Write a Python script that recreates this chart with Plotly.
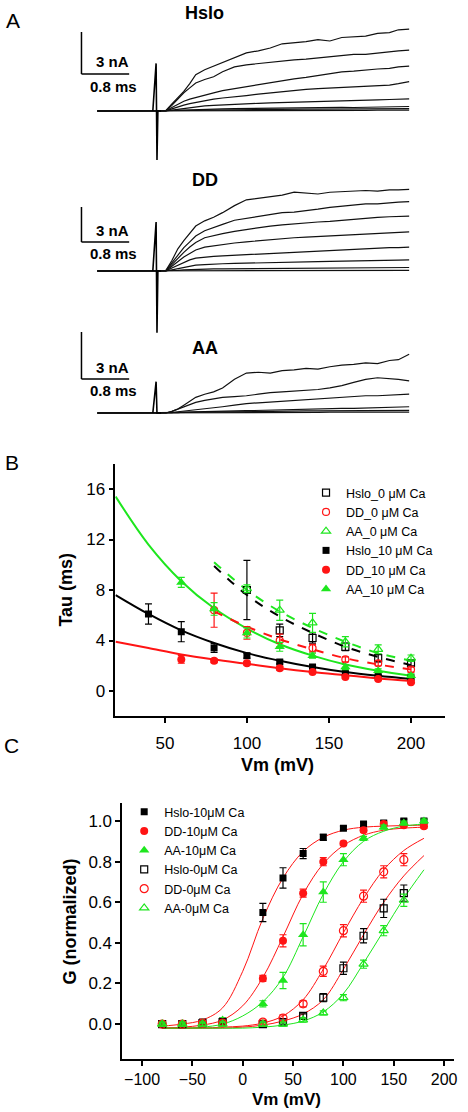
import plotly.graph_objects as go

FONT = "Liberation Sans, Arial, sans-serif"
BLACK = "#000000"
RED = "#ff1414"
GREEN = "#1ee61e"
W, H = 468, 1112


def px(x):
    return x / W


def py(y):
    return 1 - y / H


# ---------------- Panel A: current traces (time in ms, current in nA) ----------------
T_A = [0, 1.1, 1.15, 1.25, 1.35, 1.45, 1.55, 1.65, 1.8, 1.95, 2.1, 2.3, 2.5, 2.7, 2.9,
       3.1, 3.3, 3.5, 3.7, 3.9, 4.1, 4.3, 4.5, 4.7, 4.9, 5.05, 5.23]

HSLO_TRACES = [
    [0, 0, 0.05, 0.5, 0.95, 1.4, 1.95, 2.6, 2.95, 3.2, 3.5, 3.8, 4.15, 4.3, 4.5, 4.8, 4.85, 4.95, 5.1, 5.0, 5.25, 5.3, 5.35, 5.55, 5.6, 5.8, 5.85],
    [0, 0, 0.03, 0.4, 0.85, 1.3, 1.65, 2.0, 2.25, 2.45, 2.8, 3.15, 3.3, 3.4, 3.5, 3.6, 3.65, 3.7, 3.8, 3.85, 4.0, 4.05, 4.05, 4.15, 4.2, 4.3, 4.35],
    [0, 0, 0.02, 0.25, 0.5, 0.7, 0.85, 0.97, 1.15, 1.3, 1.45, 1.6, 1.75, 1.9, 2.0, 2.2, 2.3, 2.4, 2.55, 2.7, 2.8, 2.85, 2.95, 3.0, 3.05, 3.15, 3.2],
    [0, 0, 0.01, 0.15, 0.3, 0.42, 0.53, 0.62, 0.75, 0.85, 0.93, 1.0, 1.1, 1.2, 1.3, 1.4, 1.5, 1.55, 1.6, 1.65, 1.7, 1.72, 1.75, 1.8, 1.85, 1.95, 2.1],
    [0, 0, 0, 0.06, 0.12, 0.18, 0.24, 0.3, 0.36, 0.4, 0.44, 0.48, 0.52, 0.55, 0.58, 0.61, 0.64, 0.67, 0.7, 0.72, 0.74, 0.76, 0.78, 0.8, 0.82, 0.84, 0.86],
    [0, 0, 0, 0.02, 0.04, 0.06, 0.08, 0.1, 0.12, 0.14, 0.15, 0.17, 0.18, 0.19, 0.2, 0.21, 0.22, 0.24, 0.26, 0.3, 0.26, 0.25, 0.27, 0.28, 0.29, 0.3, 0.32],
    [0, 0, 0, 0.01, 0.02, 0.03, 0.04, 0.05, 0.06, 0.07, 0.08, 0.09, 0.1, 0.1, 0.11, 0.12, 0.12, 0.13, 0.13, 0.14, 0.14, 0.15, 0.15, 0.16, 0.15, 0.16, 0.17],
    [0, 0, 0, 0, 0, 0.01, 0.01, 0.01, 0.02, 0.02, 0.02, 0.03, 0.03, 0.03, 0.03, 0.04, 0.04, 0.04, 0.04, 0.05, 0.05, 0.05, 0.05, 0.06, 0.06, 0.06, 0.06],
]
DD_TRACES = [
    [0, 0, 0.05, 0.9, 1.9, 2.6, 3.2, 3.85, 4.3, 4.6, 5.0, 5.6, 6.1, 6.25, 6.35, 6.5, 6.75, 6.7, 6.6, 6.75, 6.8, 6.85, 6.9, 6.85, 6.95, 6.95, 7.0],
    [0, 0, 0.04, 0.7, 1.4, 2.0, 2.5, 3.0, 3.45, 3.75, 4.0, 4.35, 4.5, 4.65, 4.85, 5.0, 5.05, 5.15, 5.3, 5.45, 5.55, 5.6, 5.75, 5.75, 5.85, 5.9, 5.95],
    [0, 0, 0.03, 0.55, 1.1, 1.6, 2.05, 2.45, 2.85, 3.05, 3.2, 3.4, 3.55, 3.75, 3.85, 3.95, 4.05, 4.1, 4.2, 4.25, 4.35, 4.45, 4.5, 4.6, 4.65, 4.7, 4.7],
    [0, 0, 0.02, 0.4, 0.8, 1.2, 1.5, 1.8, 2.05, 2.15, 2.3, 2.4, 2.5, 2.6, 2.7, 2.75, 2.85, 2.9, 2.95, 3.0, 3.1, 3.1, 3.2, 3.25, 3.3, 3.3, 3.35],
    [0, 0, 0.01, 0.25, 0.5, 0.75, 0.95, 1.1, 1.2, 1.25, 1.3, 1.35, 1.45, 1.5, 1.55, 1.6, 1.65, 1.7, 1.75, 1.75, 1.8, 1.85, 1.9, 1.95, 2.0, 2.0, 2.05],
    [0, 0, 0, 0.1, 0.2, 0.3, 0.4, 0.5, 0.55, 0.6, 0.62, 0.65, 0.68, 0.7, 0.72, 0.75, 0.75, 0.78, 0.8, 0.82, 0.85, 0.85, 0.88, 0.9, 0.92, 0.93, 0.95],
    [0, 0, 0, 0.03, 0.06, 0.09, 0.12, 0.14, 0.16, 0.18, 0.19, 0.2, 0.21, 0.22, 0.23, 0.24, 0.24, 0.25, 0.26, 0.26, 0.27, 0.28, 0.28, 0.29, 0.29, 0.3, 0.3],
    [0, 0, 0, 0, 0, 0.01, 0.01, 0.01, 0.02, 0.02, 0.02, 0.03, 0.03, 0.03, 0.03, 0.04, 0.04, 0.04, 0.04, 0.05, 0.05, 0.05, 0.05, 0.06, 0.06, 0.06, 0.06],
]
AA_TRACES = [
    [0, 0, 0, 0.1, 0.25, 0.5, 0.75, 1.0, 1.2, 1.35, 1.6, 2.15, 2.55, 2.6, 2.55, 2.7, 2.75, 2.85, 2.8, 2.95, 3.05, 3.1, 3.2, 3.15, 3.35, 3.4, 3.75],
    [0, 0, 0, 0.1, 0.25, 0.4, 0.55, 0.68, 0.8, 0.9, 1.0, 1.05, 1.1, 1.2, 1.3, 1.35, 1.4, 1.45, 1.5, 1.6, 1.75, 1.95, 2.15, 2.25, 2.2, 2.15, 2.05],
    [0, 0, 0, 0.03, 0.08, 0.12, 0.17, 0.22, 0.27, 0.3, 0.4, 0.5, 0.6, 0.65, 0.7, 0.75, 0.8, 0.85, 0.9, 0.95, 1.0, 1.05, 1.1, 1.1, 1.15, 1.2, 1.2],
    [0, 0, 0, 0.01, 0.03, 0.05, 0.06, 0.08, 0.1, 0.12, 0.14, 0.15, 0.17, 0.18, 0.2, 0.22, 0.24, 0.25, 0.27, 0.28, 0.3, 0.3, 0.32, 0.33, 0.35, 0.37, 0.4],
    [0, 0, 0, 0.01, 0.02, 0.03, 0.04, 0.05, 0.06, 0.07, 0.08, 0.09, 0.1, 0.1, 0.11, 0.12, 0.12, 0.13, 0.13, 0.14, 0.14, 0.15, 0.15, 0.16, 0.15, 0.16, 0.17],
    [0, 0, 0, 0, 0, 0.01, 0.01, 0.01, 0.02, 0.02, 0.02, 0.03, 0.03, 0.03, 0.03, 0.04, 0.04, 0.04, 0.04, 0.05, 0.05, 0.05, 0.05, 0.06, 0.06, 0.06, 0.06],
]

ART_T = [0.93, 0.985, 1.0, 1.015, 1.07]
HSLO_ART = [0, 3.4, -3.5, 0, 0]
DD_ART = [0, 4.2, -5.3, 0, 0]
AA_ART = [0, 2.0, 0, 0, 0]

GROUP_NAMES = ["Hslo", "DD", "AA"]
SCALE_NA = 3      # vertical scale bar (nA)
SCALE_MS = 0.8    # horizontal scale bar (ms)

# ---------------- Panel B: Tau vs Vm ----------------
B_V10 = [40, 60, 80, 100, 120, 140, 160, 180, 200]
HSLO10_TAU = [6.1, 4.7, 3.4, 2.8, 2.3, 1.9, 1.4, 1.2, 1.05]
HSLO10_TAU_ERR = [0.8, 0.8, 0.35, 0.2, 0.15, 0.15, 0.15, 0.1, 0.1]
B_V10b = [60, 80, 100, 120, 140, 160, 180, 200]
DD10_TAU = [2.5, 2.4, 2.2, 1.8, 1.5, 1.1, 0.95, 0.7]
DD10_TAU_ERR = [0.3, 0.15, 0.15, 0.15, 0.1, 0.1, 0.1, 0.1]
AA10_TAU = [8.6, 6.5, 4.6, 3.5, 2.8, 1.9, 1.6, 1.2]
AA10_TAU_ERR = [0.4, 0.5, 0.4, 0.35, 0.2, 0.2, 0.15, 0.15]
B_V0 = [100, 120, 140, 160, 180, 200]
HSLO0_TAU = [8.0, 4.8, 4.2, 3.5, 2.6, 2.2]
HSLO0_TAU_ERR = [2.35, 0.5, 0.4, 0.3, 0.3, 0.2]
B_V0b = [80, 100, 120, 140, 160, 180, 200]
DD0_TAU = [6.4, 4.6, 4.0, 3.4, 2.5, 2.2, 1.7]
DD0_TAU_ERR = [1.35, 0.5, 0.5, 0.3, 0.2, 0.2, 0.2]
AA0_TAU = [8.1, 6.4, 5.4, 3.9, 3.3, 2.6]
AA0_TAU_ERR = [0.3, 0.8, 0.75, 0.4, 0.35, 0.25]

# fitted curves
B_FIT_V10 = [20, 40, 60, 80, 100, 120, 140, 160, 180, 200]
HSLO10_FIT = [7.6, 6.1, 4.8, 3.8, 3.0, 2.4, 1.9, 1.5, 1.2, 0.95]
DD10_FIT = [3.9, 3.4, 2.9, 2.5, 2.15, 1.8, 1.5, 1.25, 1.0, 0.8]
AA10_FIT = [15.4, 11.6, 8.7, 6.55, 4.95, 3.7, 2.8, 2.1, 1.6, 1.2]
B_FIT_V0 = [80, 100, 120, 140, 160, 180, 200]
HSLO0_FIT = [9.9, 7.6, 5.9, 4.6, 3.5, 2.7, 2.05]
DD0_FIT = [6.3, 5.1, 4.1, 3.3, 2.6, 2.1, 1.7]
AA0_FIT = [10.2, 8.0, 6.3, 5.0, 3.9, 3.0, 2.4]

B_TICKS_X = [50, 100, 150, 200]
B_TICKS_Y = [0, 4, 8, 12, 16]

# ---------------- Panel C: normalized G vs Vm ----------------
C_V = [-80, -60, -40, -20, 20, 40, 60, 80, 100, 120, 140, 160, 180]
HSLO10_G = [0.0, 0.0, 0.01, 0.015, 0.55, 0.72, 0.84, 0.92, 0.965, 0.985, 0.99, 1.0, 1.0]
HSLO10_G_ERR = [0.01, 0.01, 0.01, 0.01, 0.045, 0.05, 0.025, 0.015, 0.01, 0.01, 0.01, 0.01, 0.01]
DD10_G = [0.0, 0.0, 0.005, 0.01, 0.225, 0.41, 0.645, 0.80, 0.89, 0.955, 0.985, 0.98, 0.975]
DD10_G_ERR = [0.01, 0.01, 0.01, 0.01, 0.015, 0.03, 0.02, 0.02, 0.01, 0.01, 0.01, 0.01, 0.01]
AA10_G = [0.0, 0.0, 0.005, 0.02, 0.10, 0.215, 0.44, 0.65, 0.81, 0.915, 0.97, 0.99, 1.0]
AA10_G_ERR = [0.01, 0.01, 0.01, 0.01, 0.015, 0.04, 0.055, 0.05, 0.03, 0.01, 0.01, 0.01, 0.01]
HSLO0_G = [0.0, 0.0, 0.005, 0.01, 0.0, 0.01, 0.04, 0.13, 0.275, 0.435, 0.57, 0.645, None]
HSLO0_G_ERR = [0.01, 0.01, 0.01, 0.01, 0.01, 0.01, 0.01, 0.02, 0.03, 0.035, 0.045, 0.04, 0]
DD0_G = [0.0, 0.0, 0.005, 0.005, 0.01, 0.03, 0.10, 0.26, 0.46, 0.63, 0.75, 0.81, None]
DD0_G_ERR = [0.01, 0.01, 0.01, 0.01, 0.01, 0.015, 0.015, 0.025, 0.03, 0.03, 0.03, 0.03, 0]
AA0_G = [0.0, 0.0, 0.0, 0.0, 0.0, 0.0, 0.02, 0.055, 0.13, 0.295, 0.46, 0.61, None]
AA0_G_ERR = [0.01, 0.01, 0.01, 0.01, 0.01, 0.01, 0.01, 0.01, 0.015, 0.02, 0.025, 0.03, 0]

C_FIT_V = [-80, -60, -40, -20, 0, 20, 40, 60, 80, 100, 120, 140, 160, 180]
HSLO10_GFIT = [-0.01, 0.0, 0.02, 0.08, 0.26, 0.52, 0.72, 0.85, 0.92, 0.955, 0.97, 0.975, 0.978, 0.98]
DD10_GFIT = [-0.02, -0.015, -0.005, 0.02, 0.09, 0.23, 0.43, 0.64, 0.79, 0.88, 0.93, 0.955, 0.965, 0.97]
AA10_GFIT = [-0.02, -0.02, -0.015, 0.0, 0.04, 0.11, 0.23, 0.43, 0.64, 0.80, 0.90, 0.95, 0.975, 0.985]
HSLO0_GFIT = [-0.02, -0.02, -0.02, -0.02, -0.015, -0.005, 0.015, 0.05, 0.12, 0.27, 0.44, 0.60, 0.73, 0.83]
DD0_GFIT = [-0.02, -0.02, -0.02, -0.015, -0.01, 0.005, 0.04, 0.12, 0.27, 0.45, 0.62, 0.76, 0.855, 0.915]
AA0_GFIT = [-0.02, -0.02, -0.02, -0.02, -0.02, -0.015, -0.005, 0.015, 0.06, 0.15, 0.30, 0.46, 0.62, 0.76]

C_TICKS_X = [-100, -50, 0, 50, 100, 150, 200]
C_TICKS_Y = [0.0, 0.2, 0.4, 0.6, 0.8, 1.0]

fig = go.Figure()

# ---------- Panel A ----------
# per group: (axis suffix, baseline px, px per nA, top px, bottom px, traces, artifact)
A_GROUPS = [
    ("", 111, 14.0, 0, 165, HSLO_TRACES, HSLO_ART),
    ("2", 271, 11.67, 170, 336, DD_TRACES, DD_ART),
    ("3", 413, 15.67, 326, 430, AA_TRACES, AA_ART),
]
A_X0, A_X1, A_T0_PX, A_PX_PER_MS = 60, 430, 98, 60.0
layout_axes = {}
for suf, base, ppn, top, bot, traces, art in A_GROUPS:
    xa, ya = "x" + suf, "y" + suf
    for tr in traces:
        fig.add_trace(go.Scatter(x=T_A, y=tr, mode="lines", xaxis=xa, yaxis=ya,
                                 line=dict(color="#111111", width=1.2), showlegend=False,
                                 hoverinfo="skip"))
    fig.add_trace(go.Scatter(x=ART_T, y=art, mode="lines", xaxis=xa, yaxis=ya,
                             line=dict(color="#000000", width=1.6), showlegend=False,
                             hoverinfo="skip"))
    layout_axes["xaxis" + suf] = dict(domain=[px(A_X0), px(A_X1)], visible=False,
                                      range=[(A_X0 - A_T0_PX) / A_PX_PER_MS, (A_X1 - A_T0_PX) / A_PX_PER_MS],
                                      anchor=ya)
    layout_axes["yaxis" + suf] = dict(domain=[py(bot), py(top)], visible=False,
                                      range=[(base - bot) / ppn, (base - top) / ppn], anchor=xa)

# scale bars
SB_X0 = (82 - A_T0_PX) / A_PX_PER_MS
SB_BASE = {"": (111 - 74) / 14.0, "2": (271 - 242) / 11.67, "3": (413 - 379) / 15.67}
shapes = []
for suf, b in SB_BASE.items():
    shapes.append(dict(type="line", xref="x" + suf, yref="y" + suf, x0=SB_X0, x1=SB_X0,
                       y0=b, y1=b + SCALE_NA, line=dict(color="black", width=1.5)))
    shapes.append(dict(type="line", xref="x" + suf, yref="y" + suf, x0=SB_X0, x1=SB_X0 + SCALE_MS,
                       y0=b, y1=b, line=dict(color="black", width=1.5)))

annotations = []
def ann(text, x, y, size, bold=False, angle=0, xanchor="center"):
    annotations.append(dict(text=("<b>%s</b>" % text) if bold else text, x=px(x), y=py(y),
                            xref="paper", yref="paper", showarrow=False, textangle=angle,
                            xanchor=xanchor, yanchor="middle",
                            font=dict(family=FONT, size=size, color="black")))

for name, ty, na_y, ms_y in zip(GROUP_NAMES, [13, 180, 348], [62, 230, 368], [87, 253, 391]):
    ann(name, 206, ty, 18, bold=True)
    ann("%d nA" % SCALE_NA, 113, na_y, 15, bold=True)
    ann("%g ms" % SCALE_MS, 114, ms_y, 15, bold=True)

ann("A", 13, 21, 21)
ann("B", 12, 463, 21)
ann("C", 12, 745, 21)

# ---------- Panel B ----------
def add_fit(xv, yv, color, dash, xa, ya, width):
    fig.add_trace(go.Scatter(x=xv, y=yv, mode="lines", xaxis=xa, yaxis=ya, showlegend=False,
                             line=dict(color=color, width=width, dash=dash, shape="spline"),
                             hoverinfo="skip"))

def add_series(xv, yv, err, color, symbol, name, xa, ya, legend, size):
    fig.add_trace(go.Scatter(x=xv, y=yv, mode="markers", xaxis=xa, yaxis=ya, showlegend=False,
                             marker=dict(size=1, color="rgba(0,0,0,0)"),
                             error_y=dict(type="data", array=err, color=color, thickness=1.2, width=3.5),
                             hoverinfo="skip"))
    open_ = symbol.endswith("open")
    fig.add_trace(go.Scatter(x=xv, y=yv, mode="markers", xaxis=xa, yaxis=ya, name=name,
                             legend=legend,
                             marker=dict(symbol=symbol, size=size, color=color,
                                         line=dict(color=color, width=1.2 if open_ else 0))))

add_fit(B_FIT_V10, HSLO10_FIT, BLACK, "solid", "x4", "y4", 2)
add_fit(B_FIT_V10, DD10_FIT, RED, "solid", "x4", "y4", 2)
add_fit(B_FIT_V10, AA10_FIT, GREEN, "solid", "x4", "y4", 2)
add_fit(B_FIT_V0, HSLO0_FIT, BLACK, "dash", "x4", "y4", 2)
add_fit(B_FIT_V0, DD0_FIT, RED, "dash", "x4", "y4", 2)
add_fit(B_FIT_V0, AA0_FIT, GREEN, "dash", "x4", "y4", 2)

add_series(B_V0, HSLO0_TAU, HSLO0_TAU_ERR, BLACK, "square-open", "Hslo_0 μM Ca", "x4", "y4", "legend", 7)
add_series(B_V0b, DD0_TAU, DD0_TAU_ERR, RED, "circle-open", "DD_0 μM Ca", "x4", "y4", "legend", 7)
add_series(B_V0, AA0_TAU, AA0_TAU_ERR, GREEN, "triangle-up-open", "AA_0 μM Ca", "x4", "y4", "legend", 8)
add_series(B_V10, HSLO10_TAU, HSLO10_TAU_ERR, BLACK, "square", "Hslo_10 μM Ca", "x4", "y4", "legend", 7)
add_series(B_V10b, DD10_TAU, DD10_TAU_ERR, RED, "circle", "DD_10 μM Ca", "x4", "y4", "legend", 8)
add_series(B_V10b, AA10_TAU, AA10_TAU_ERR, GREEN, "triangle-up", "AA_10 μM Ca", "x4", "y4", "legend", 9)

# ---------- Panel C ----------
add_fit(C_FIT_V, HSLO10_GFIT, RED, "solid", "x5", "y5", 1)
add_fit(C_FIT_V, DD10_GFIT, RED, "solid", "x5", "y5", 1)
add_fit(C_FIT_V, AA10_GFIT, GREEN, "solid", "x5", "y5", 1)
add_fit(C_FIT_V, HSLO0_GFIT, RED, "solid", "x5", "y5", 1)
add_fit(C_FIT_V, DD0_GFIT, RED, "solid", "x5", "y5", 1)
add_fit(C_FIT_V, AA0_GFIT, GREEN, "solid", "x5", "y5", 1)

add_series(C_V, HSLO10_G, HSLO10_G_ERR, BLACK, "square", "Hslo-10μM Ca", "x5", "y5", "legend2", 7)
add_series(C_V, DD10_G, DD10_G_ERR, RED, "circle", "DD-10μM Ca", "x5", "y5", "legend2", 8)
add_series(C_V, AA10_G, AA10_G_ERR, GREEN, "triangle-up", "AA-10μM Ca", "x5", "y5", "legend2", 9)
add_series(C_V, HSLO0_G, HSLO0_G_ERR, BLACK, "square-open", "Hslo-0μM Ca", "x5", "y5", "legend2", 7)
add_series(C_V, DD0_G, DD0_G_ERR, RED, "circle-open", "DD-0μM Ca", "x5", "y5", "legend2", 8)
add_series(C_V, AA0_G, AA0_G_ERR, GREEN, "triangle-up-open", "AA-0μM Ca", "x5", "y5", "legend2", 8)

axis_common = dict(showline=True, linewidth=1.5, linecolor="black", ticks="outside",
                   ticklen=5, tickwidth=1.5, tickcolor="black", showgrid=False, zeroline=False,
                   fixedrange=True)
TICKFONT = dict(family=FONT, size=17, color="black")

layout_axes["xaxis4"] = dict(domain=[px(116), px(448)], range=[19.76, 220.8], anchor="y4",
                             tickvals=B_TICKS_X, ticklabelstandoff=6, tickfont=TICKFONT, **axis_common)
layout_axes["yaxis4"] = dict(domain=[py(716), py(464)], range=[-1.98, 17.98], anchor="x4",
                             tickvals=B_TICKS_Y, tickfont=TICKFONT, **axis_common)
layout_axes["xaxis5"] = dict(domain=[px(123), px(457)], range=[-119.7, 209.9], anchor="y5",
                             tickvals=C_TICKS_X, tickfont=dict(family=FONT, size=16, color="black"),
                             **axis_common)
layout_axes["yaxis5"] = dict(domain=[py(1059), py(803)], range=[-0.172, 1.089], anchor="x5",
                             tickvals=C_TICKS_Y, tickformat=".1f", tickfont=TICKFONT, **axis_common)

ann("Tau (ms)", 66, 590, 18, bold=True, angle=-90)
ann("Vm (mV)", 279, 765, 18, bold=True)
ann("G (normalized)", 70, 922, 18, bold=True, angle=-90)
ann("Vm (mV)", 288, 1099, 17, bold=True)

legend_common = dict(xanchor="left", yanchor="top", bgcolor="rgba(0,0,0,0)",
                     font=dict(family=FONT, size=12.5, color="black"), itemwidth=30,
                     tracegroupgap=0)

fig.update_layout(
    width=W, height=H, autosize=False,
    margin=dict(l=0, r=0, t=0, b=0),
    paper_bgcolor="white", plot_bgcolor="rgba(0,0,0,0)",
    showlegend=True,
    legend=dict(x=px(308), y=py(478), **legend_common),
    legend2=dict(x=px(125), y=py(797), **legend_common),
    shapes=shapes, annotations=annotations,
    **layout_axes,
)

fig.write_html("out.html", config={"displayModeBar": False},
               post_script="document.body.style.margin='0';document.body.style.padding='0';")
